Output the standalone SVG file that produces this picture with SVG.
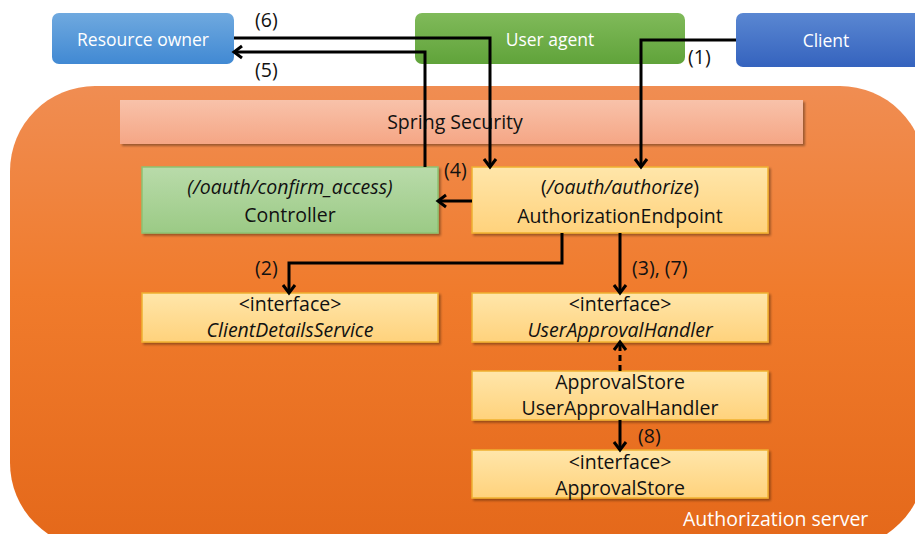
<svg xmlns="http://www.w3.org/2000/svg" width="915" height="534" viewBox="0 0 915 534">
<defs>
<linearGradient id="gServer" x1="0" y1="0" x2="0" y2="1"><stop offset="0" stop-color="#F08D52"/><stop offset="0.45" stop-color="#F07B2C"/><stop offset="1" stop-color="#E4681A"/></linearGradient>
<linearGradient id="gBlue" x1="0" y1="0" x2="0" y2="1"><stop offset="0" stop-color="#6FA9DF"/><stop offset="1" stop-color="#4189D3"/></linearGradient>
<linearGradient id="gBlue2" x1="0" y1="0" x2="0" y2="1"><stop offset="0" stop-color="#5A87D2"/><stop offset="1" stop-color="#3563BE"/></linearGradient>
<linearGradient id="gGreen" x1="0" y1="0" x2="0" y2="1"><stop offset="0" stop-color="#80BA5A"/><stop offset="1" stop-color="#60A33A"/></linearGradient>
<linearGradient id="gSalmon" x1="0" y1="0" x2="0" y2="1"><stop offset="0" stop-color="#F8C2AA"/><stop offset="1" stop-color="#F5A685"/></linearGradient>
<linearGradient id="gLGreen" x1="0" y1="0" x2="0" y2="1"><stop offset="0" stop-color="#B9DBAA"/><stop offset="1" stop-color="#9BCA85"/></linearGradient>
<linearGradient id="gYellow" x1="0" y1="0" x2="0" y2="1"><stop offset="0" stop-color="#FFE6AA"/><stop offset="1" stop-color="#FFD27C"/></linearGradient>
<filter id="sh" x="-5%" y="-10%" width="115%" height="140%"><feDropShadow dx="2" dy="2" stdDeviation="1.2" flood-color="#000" flood-opacity="0.35"/></filter>
<marker id="arr" markerUnits="userSpaceOnUse" markerWidth="16" markerHeight="16" viewBox="0 0 16 16" refX="12" refY="8" orient="auto">
<path d="M4,2 L12,8 L4,14" fill="none" stroke="#000" stroke-width="3"/>
</marker>
</defs>
<style>
text{font-family:"Open Sans","Liberation Sans",sans-serif;font-size:19.5px;fill:#111;text-anchor:middle}
.w{fill:#fff;font-size:17.5px}
.big{font-size:19.5px}
.i{font-style:italic}
.lbl{text-anchor:start}
.box{stroke:#F0B030;stroke-width:1.5;filter:url(#sh)}
.con{fill:none;stroke:#000;stroke-width:3}
</style>
<g id="authorization-server">
<rect x="10" y="86" width="915" height="462" rx="85" ry="85" fill="url(#gServer)"/>
<text class="w big lbl" x="683" y="526">Authorization server</text>
</g>
<g id="resource-owner">
<rect x="52" y="13" width="182" height="51" rx="7" fill="url(#gBlue)"/>
<text class="w" x="143" y="46">Resource owner</text>
</g>
<g id="user-agent">
<rect x="415" y="13" width="270" height="51" rx="7" fill="url(#gGreen)"/>
<text class="w" x="550" y="46">User agent</text>
</g>
<g id="client">
<rect x="736" y="13" width="190" height="54" rx="7" fill="url(#gBlue2)"/>
<text class="w" x="826" y="47">Client</text>
</g>
<g id="spring-security">
<rect x="120" y="100" width="683" height="44" fill="url(#gSalmon)" filter="url(#sh)"/>
<text x="455" y="129">Spring Security</text>
</g>
<g id="controller">
<rect x="142" y="167" width="296" height="66" fill="url(#gLGreen)" stroke="#8DC272" stroke-width="1.5" filter="url(#sh)"/>
<text class="i" x="290" y="194">(/oauth/confirm_access)</text>
<text x="290" y="222">Controller</text>
</g>
<g id="authorization-endpoint">
<rect class="box" x="472" y="167" width="296" height="66" fill="url(#gYellow)"/>
<text x="620" y="194">(<tspan class="i">/oauth/authorize</tspan>)</text>
<text x="620" y="223">AuthorizationEndpoint</text>
</g>
<g id="client-details-service">
<rect class="box" x="142" y="293" width="296" height="49" fill="url(#gYellow)"/>
<text x="290" y="311">&lt;interface&gt;</text>
<text class="i" x="290" y="337">ClientDetailsService</text>
</g>
<g id="user-approval-handler">
<rect class="box" x="472" y="293" width="296" height="49" fill="url(#gYellow)"/>
<text x="620" y="311">&lt;interface&gt;</text>
<text class="i" x="620" y="337">UserApprovalHandler</text>
</g>
<g id="approval-store-user-approval-handler">
<rect class="box" x="472" y="371" width="296" height="49" fill="url(#gYellow)"/>
<text x="620" y="389">ApprovalStore</text>
<text x="620" y="415">UserApprovalHandler</text>
</g>
<g id="approval-store">
<rect class="box" x="472" y="450" width="296" height="48" fill="url(#gYellow)"/>
<text x="620" y="469">&lt;interface&gt;</text>
<text x="620" y="495">ApprovalStore</text>
</g>
<g id="connectors">
<path class="con" d="M736,40 H641 V167" marker-end="url(#arr)"/>
<path class="con" d="M234,38 H490 V167" marker-end="url(#arr)"/>
<path class="con" d="M425,167 V52 H234" marker-end="url(#arr)"/>
<path class="con" d="M472,201 H438" marker-end="url(#arr)"/>
<path class="con" d="M562,233 V263 H289 V293" marker-end="url(#arr)"/>
<path class="con" d="M620,233 V293" marker-end="url(#arr)"/>
<path class="con" d="M620,371 V342" stroke-dasharray="6,4" marker-end="url(#arr)"/>
<path class="con" d="M620,420 V450" marker-end="url(#arr)"/>
<text class="lbl" x="255" y="27">(6)</text>
<text class="lbl" x="255" y="77">(5)</text>
<text class="lbl" x="688" y="64">(1)</text>
<text class="lbl" x="444" y="177">(4)</text>
<text class="lbl" x="255" y="275">(2)</text>
<text class="lbl" x="632" y="275">(3), (7)</text>
<text class="lbl" x="638" y="443">(8)</text>
</g>
</svg>
